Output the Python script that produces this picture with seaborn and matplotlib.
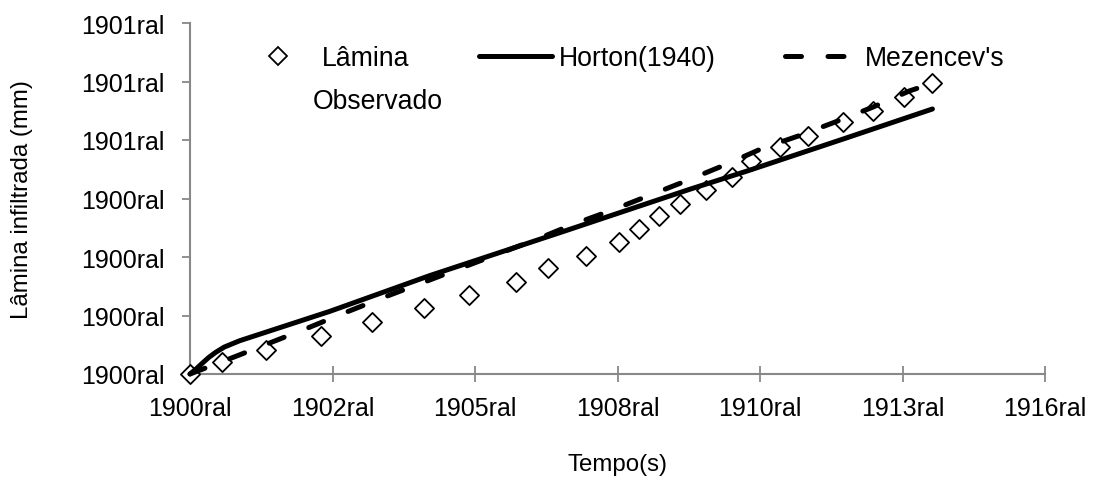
import matplotlib
matplotlib.use("Agg")
import matplotlib.pyplot as plt
from matplotlib.lines import Line2D
import seaborn as sns
import pandas as pd

# ---- data ----
obs_t = [0.00, 0.225, 0.53, 0.92, 1.28, 1.64, 1.96, 2.29, 2.51, 2.78, 3.01, 3.15,
         3.29, 3.44, 3.62, 3.80, 3.94, 4.14, 4.34, 4.58, 4.79, 5.01, 5.21]
obs_y = [0.00, 0.21, 0.41, 0.65, 0.89, 1.13, 1.35, 1.57, 1.81, 2.02, 2.26, 2.48,
         2.70, 2.91, 3.15, 3.37, 3.64, 3.88, 4.07, 4.31, 4.50, 4.74, 4.97]

horton_t = [0.00, 0.04, 0.08, 0.13, 0.18, 0.24, 0.35, 0.98, 1.68, 2.60, 3.51, 3.91, 4.60, 5.21]
horton_y = [0.00, 0.08, 0.17, 0.28, 0.37, 0.46, 0.57, 1.07, 1.68, 2.42, 3.16, 3.47, 4.03, 4.53]

mez_t = [0.00, 0.33, 0.58, 0.84, 1.10, 1.37, 1.61, 2.44, 2.69, 2.95, 3.21, 3.46,
         3.74, 4.01, 4.27, 4.53, 4.79, 5.05, 5.21]
mez_y = [0.00, 0.31, 0.55, 0.80, 1.06, 1.32, 1.54, 2.31, 2.56, 2.79, 3.04, 3.28,
         3.56, 3.85, 4.07, 4.31, 4.56, 4.84, 4.97]

x_ticks = [0, 1, 2, 3, 4, 5, 6]
x_tick_labels = ["1900ral", "1902ral", "1905ral", "1908ral", "1910ral", "1913ral", "1916ral"]
y_ticks = [0, 1, 2, 3, 4, 5, 6]
y_tick_labels = ["1900ral", "1900ral", "1900ral", "1900ral", "1901ral", "1901ral", "1901ral"]

series_labels = ["Lâmina", "Horton(1940)", "Mezencev's"]
obs_label_line2 = "Observado"
x_label = "Tempo(s)"
y_label = "Lâmina infiltrada (mm)"

# ---- style ----
sns.set_style("white")
plt.rcParams["font.family"] = ["Liberation Sans", "DejaVu Sans"]
plt.rcParams["text.color"] = "black"
plt.rcParams["axes.labelcolor"] = "black"
plt.rcParams["xtick.labelcolor"] = "black"
plt.rcParams["ytick.labelcolor"] = "black"
FS_TICK = 18
FS_LAB = 17.3
FS_LEG = 19.2
AX_GRAY = "#888888"

fig = plt.figure(figsize=(10.94, 4.81), dpi=100)
ax = fig.add_axes([190 / 1094, 1 - 375 / 481, 855 / 1094, 351 / 481])

df_obs = pd.DataFrame({"t": obs_t, "y": obs_y})
df_h = pd.DataFrame({"t": horton_t, "y": horton_y})
df_m = pd.DataFrame({"t": mez_t, "y": mez_y})

sns.scatterplot(data=df_obs, x="t", y="y", ax=ax, marker="D", s=95,
                facecolor="white", edgecolor="black", linewidth=1.3,
                clip_on=False, zorder=3, legend=False)
sns.lineplot(data=df_h, x="t", y="y", ax=ax, sort=False, color="black",
             linewidth=3.6, solid_capstyle="round", clip_on=False, zorder=4,
             legend=False)
sns.lineplot(data=df_m, x="t", y="y", ax=ax, sort=False, color="black",
             linewidth=3.6, dashes=False, clip_on=False, zorder=4, legend=False)
ax.lines[-1].set_dashes((3.2, 5.3))
ax.lines[-1].set_dash_capstyle("round")

ax.set_xlim(0, 6)
ax.set_ylim(0, 6)
ax.set_xticks(x_ticks)
ax.set_xticklabels(x_tick_labels, fontsize=FS_TICK, color="black")
ax.set_yticks(y_ticks)
ax.set_yticklabels(y_tick_labels, fontsize=FS_TICK, color="black")

for s in ["top", "right"]:
    ax.spines[s].set_visible(False)
for s in ["left", "bottom"]:
    ax.spines[s].set_color(AX_GRAY)
    ax.spines[s].set_linewidth(1.5)

ax.tick_params(axis="y", direction="out", length=5.5, width=1.3, color=AX_GRAY,
               pad=13, left=True)
ax.tick_params(axis="x", direction="inout", length=11, width=1.3, color=AX_GRAY,
               pad=10, bottom=True)

ax.set_xlabel(x_label, fontsize=FS_LAB, color="black")
ax.set_ylabel(y_label, fontsize=FS_LAB, color="black")
ax.xaxis.set_label_coords(0.5, -(465 - 375) / 351)
ax.xaxis.label.set_va("center")
ax.yaxis.set_label_coords(-(190 - 22) / 855, 0.5)
ax.yaxis.label.set_va("center")

handles = [
    Line2D([], [], linestyle="none", marker="D", markersize=9,
           markerfacecolor="white", markeredgecolor="black", markeredgewidth=1.3),
    Line2D([], [], color="black", linewidth=3.6),
    Line2D([], [], color="black", linewidth=3.6, linestyle=(0, (3.2, 5.3)),
           dash_capstyle="round"),
]
leg = fig.legend(handles, series_labels, ncol=3, frameon=False, fontsize=FS_LEG,
                 loc="center left", bbox_to_anchor=(242 / 1094, 1 - 59 / 481),
                 bbox_transform=fig.transFigure, borderpad=0, borderaxespad=0,
                 handlelength=2.73, handletextpad=0.27, columnspacing=2.6,
                 labelcolor="black")
fig.text(313 / 1094, 1 - 102 / 481, obs_label_line2, fontsize=FS_LEG,
         ha="left", va="center", color="black")

fig.savefig("out.png", dpi=100)
